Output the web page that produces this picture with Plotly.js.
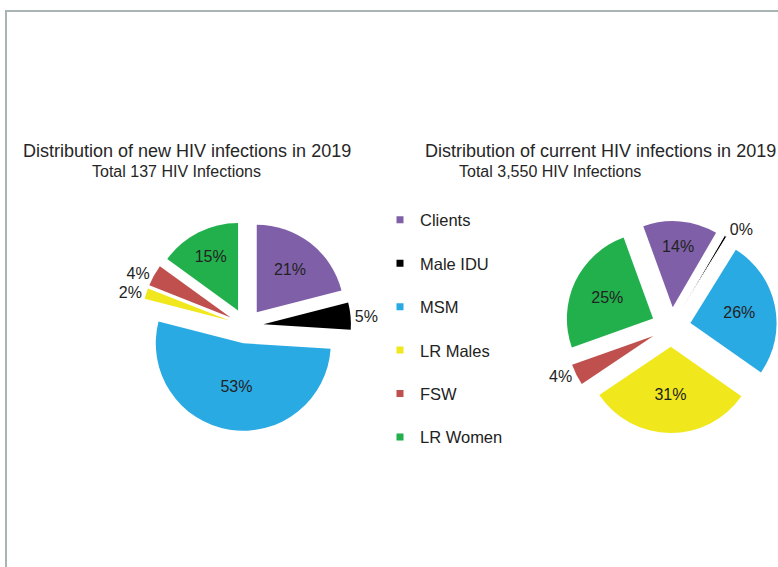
<!DOCTYPE html>
<html>
<head>
<meta charset="utf-8">
<script src="https://cdn.plot.ly/plotly-3.0.1.min.js"></script>
<style>html,body{margin:0;padding:0;background:#fff;}#chart{width:778px;height:567px;}</style>
</head>
<body>
<div id="chart"></div>
<script>
var categories = ["Clients", "Male IDU", "MSM", "LR Males", "FSW", "LR Women"];
var colors = ["#7f60a8", "#000000", "#2aaae2", "#f0e81c", "#c0504d", "#22b04c"];
var newInfections = [21, 5, 53, 2, 4, 15];
var currentInfections = [14, 0.45, 26, 31, 4, 25];
var newTitle = "Distribution of new HIV infections in 2019";
var newSubtitle = "Total 137 HIV Infections";
var currentTitle = "Distribution of current HIV infections in 2019";
var currentSubtitle = "Total 3,550 HIV Infections";

var W = 778, H = 567;
function dx(a, b) { return [a / W, b / W]; }
function dy(a, b) { return [1 - b / H, 1 - a / H]; }

var FAM = "Liberation Sans, Arial, sans-serif";
var labelFont = {family: FAM, size: 16, color: "#222"};

var traces = [];
traces.push({
  type: "pie", labels: categories, values: newInfections, sort: false,
  direction: "clockwise", rotation: 0,
  marker: {colors: colors, line: {width: 0}},
  pull: 0.2,
  texttemplate: "%{percent:.0%}",
  textposition: ["inside", "outside", "inside", "outside", "outside", "inside"],
  textfont: labelFont, insidetextorientation: "horizontal",
  domain: {x: dx(246 - 105, 246 + 105), y: dy(326 - 105, 326 + 105)},
  showlegend: false, hoverinfo: "label+percent"
});
traces.push({
  type: "pie", labels: categories, values: currentInfections, sort: false,
  direction: "clockwise", rotation: -20,
  marker: {colors: colors, line: {width: [0, 1, 0, 0, 0, 0], color: "#ffffff"}},
  pull: 0.23,
  texttemplate: "%{percent:.0%}",
  textposition: ["inside", "outside", "inside", "inside", "outside", "inside"],
  textfont: labelFont, insidetextorientation: "horizontal",
  domain: {x: dx(671 - 106, Math.min(W, 671 + 106)), y: dy(327 - 106, 327 + 106)},
  showlegend: false, hoverinfo: "label+percent"
});
categories.forEach(function (c, i) {
  traces.push({
    type: "scatter", mode: "markers", x: [null], y: [null], name: c,
    legendgroup: "g" + i,
    marker: {symbol: "square", size: 7, color: colors[i]},
    hoverinfo: "skip", xaxis: "x", yaxis: "y"
  });
});

var titleFont = {family: FAM, size: 18, color: "#262626"};
var subFont = {family: FAM, size: 16, color: "#262626"};

var layout = {
  width: W, height: H,
  margin: {l: 0, r: 0, t: 0, b: 0},
  paper_bgcolor: "#ffffff", plot_bgcolor: "rgba(0,0,0,0)",
  xaxis: {visible: false, domain: [0, 0.01]},
  yaxis: {visible: false, domain: [0, 0.01]},
  showlegend: true,
  legend: {
    x: 380 / W, xanchor: "left", y: 1 - 202.5 / H, yanchor: "top",
    traceorder: "grouped", tracegroupgap: 19, itemwidth: 30,
    font: {family: FAM, size: 16.5, color: "#222"},
    bgcolor: "rgba(0,0,0,0)", borderwidth: 0
  },
  annotations: [
    {text: newTitle, xref: "paper", yref: "paper", x: 187 / W, y: 1 - 151 / H, xanchor: "center", yanchor: "middle", showarrow: false, font: titleFont},
    {text: newSubtitle, xref: "paper", yref: "paper", x: 176.5 / W, y: 1 - 171 / H, xanchor: "center", yanchor: "middle", showarrow: false, font: subFont},
    {text: currentTitle, xref: "paper", yref: "paper", x: 423 / W, y: 1 - 151 / H, xanchor: "left", yanchor: "middle", showarrow: false, font: titleFont},
    {text: currentSubtitle, xref: "paper", yref: "paper", x: 457 / W, y: 1 - 171 / H, xanchor: "left", yanchor: "middle", showarrow: false, font: subFont}
  ],
  shapes: [
    {type: "line", xref: "paper", yref: "paper", x0: 5 / W, x1: 1, y0: 1 - 11 / H, y1: 1 - 11 / H, line: {color: "#aab4b4", width: 2}},
    {type: "line", xref: "paper", yref: "paper", x0: 6 / W, x1: 6 / W, y0: 0, y1: 1 - 10 / H, line: {color: "#aab4b4", width: 2}}
  ]
};

Plotly.newPlot("chart", traces, layout, {staticPlot: true, displayModeBar: false});
</script>
</body>
</html>
